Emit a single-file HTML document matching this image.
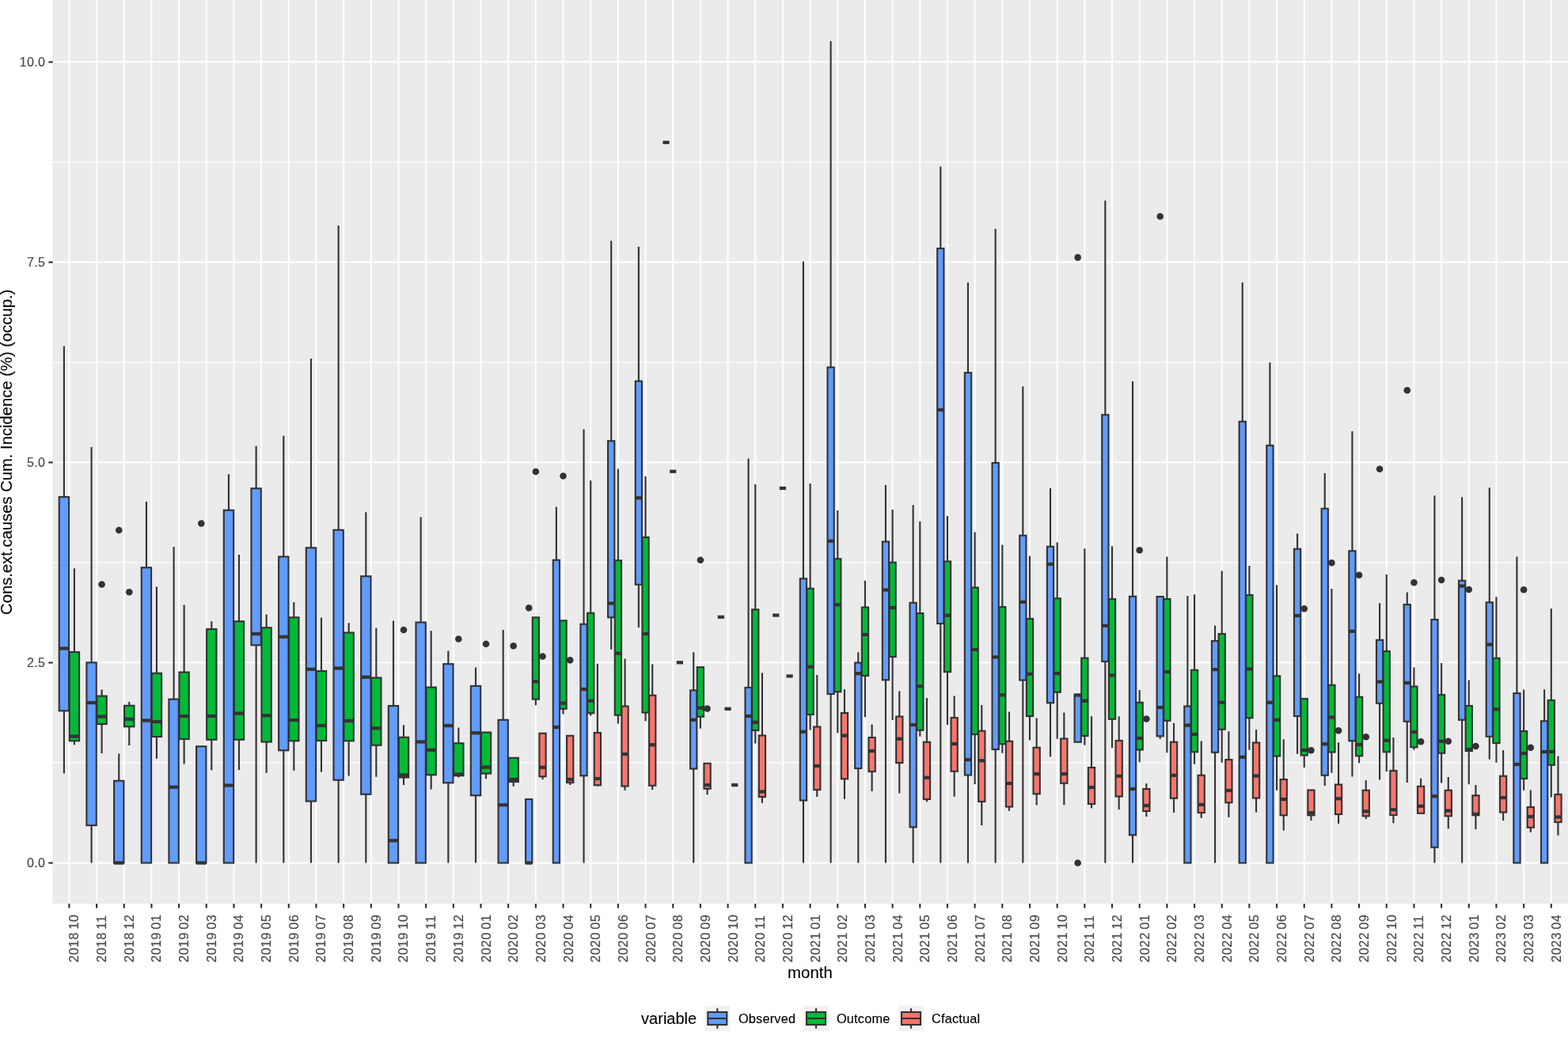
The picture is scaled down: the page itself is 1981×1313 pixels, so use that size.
<!DOCTYPE html>
<html lang="en"><head><meta charset="utf-8"><title>Cons.ext.causes Cum. Incidence by month</title>
<style>html,body{margin:0;padding:0;background:#fff}body{width:1981px;height:1313px;overflow:hidden}svg{display:block}text{font-family:"Liberation Sans",Arial,Helvetica,sans-serif}.g line{stroke:#fff}.b{stroke:#333333;stroke-width:2.12;stroke-linejoin:miter}.w{stroke:#333333;stroke-width:2.12;fill:none}.m{stroke:#333333;stroke-width:4.24}.o{fill:#333333}.t{stroke:#333333;stroke-width:2.12}.xl{font-size:16.3px;fill:#4D4D4D;stroke:#4D4D4D;stroke-width:0.22px;letter-spacing:0.52px;word-spacing:-1.5px}.yl{font-size:16px;fill:#4D4D4D;stroke:#4D4D4D;stroke-width:0.2px;text-anchor:end;letter-spacing:0.4px}.ti{font-size:20.4px;fill:#000;stroke:#000;stroke-width:0.12px}.lg{font-size:16.3px;fill:#000;stroke:#000;stroke-width:0.15px;letter-spacing:0.2px}</style></head><body>
<svg width="1981" height="1313" viewBox="0 0 1981 1313">
<rect x="0" y="0" width="1981" height="1313" fill="#fff"/>
<rect x="66.5" y="0" width="1914.5" height="1142" fill="#EBEBEB"/>
<g class="g">
<line x1="66.5" x2="1981" y1="204.9" y2="204.9" stroke-width="1.1"/>
<line x1="66.5" x2="1981" y1="457.9" y2="457.9" stroke-width="1.1"/>
<line x1="66.5" x2="1981" y1="710.9" y2="710.9" stroke-width="1.1"/>
<line x1="66.5" x2="1981" y1="963.9" y2="963.9" stroke-width="1.1"/>
<line x1="66.5" x2="1981" y1="78.3" y2="78.3" stroke-width="2"/>
<line x1="66.5" x2="1981" y1="331.3" y2="331.3" stroke-width="2"/>
<line x1="66.5" x2="1981" y1="584.3" y2="584.3" stroke-width="2"/>
<line x1="66.5" x2="1981" y1="837.35" y2="837.35" stroke-width="2"/>
<line x1="66.5" x2="1981" y1="1090.4" y2="1090.4" stroke-width="2"/>
<line x1="87.4" x2="87.4" y1="0" y2="1142" stroke-width="2"/>
<line x1="122.07" x2="122.07" y1="0" y2="1142" stroke-width="2"/>
<line x1="156.75" x2="156.75" y1="0" y2="1142" stroke-width="2"/>
<line x1="191.42" x2="191.42" y1="0" y2="1142" stroke-width="2"/>
<line x1="226.1" x2="226.1" y1="0" y2="1142" stroke-width="2"/>
<line x1="260.77" x2="260.77" y1="0" y2="1142" stroke-width="2"/>
<line x1="295.44" x2="295.44" y1="0" y2="1142" stroke-width="2"/>
<line x1="330.12" x2="330.12" y1="0" y2="1142" stroke-width="2"/>
<line x1="364.79" x2="364.79" y1="0" y2="1142" stroke-width="2"/>
<line x1="399.47" x2="399.47" y1="0" y2="1142" stroke-width="2"/>
<line x1="434.14" x2="434.14" y1="0" y2="1142" stroke-width="2"/>
<line x1="468.81" x2="468.81" y1="0" y2="1142" stroke-width="2"/>
<line x1="503.49" x2="503.49" y1="0" y2="1142" stroke-width="2"/>
<line x1="538.16" x2="538.16" y1="0" y2="1142" stroke-width="2"/>
<line x1="572.84" x2="572.84" y1="0" y2="1142" stroke-width="2"/>
<line x1="607.51" x2="607.51" y1="0" y2="1142" stroke-width="2"/>
<line x1="642.18" x2="642.18" y1="0" y2="1142" stroke-width="2"/>
<line x1="676.86" x2="676.86" y1="0" y2="1142" stroke-width="2"/>
<line x1="711.53" x2="711.53" y1="0" y2="1142" stroke-width="2"/>
<line x1="746.21" x2="746.21" y1="0" y2="1142" stroke-width="2"/>
<line x1="780.88" x2="780.88" y1="0" y2="1142" stroke-width="2"/>
<line x1="815.55" x2="815.55" y1="0" y2="1142" stroke-width="2"/>
<line x1="850.23" x2="850.23" y1="0" y2="1142" stroke-width="2"/>
<line x1="884.9" x2="884.9" y1="0" y2="1142" stroke-width="2"/>
<line x1="919.58" x2="919.58" y1="0" y2="1142" stroke-width="2"/>
<line x1="954.25" x2="954.25" y1="0" y2="1142" stroke-width="2"/>
<line x1="988.92" x2="988.92" y1="0" y2="1142" stroke-width="2"/>
<line x1="1023.6" x2="1023.6" y1="0" y2="1142" stroke-width="2"/>
<line x1="1058.27" x2="1058.27" y1="0" y2="1142" stroke-width="2"/>
<line x1="1092.95" x2="1092.95" y1="0" y2="1142" stroke-width="2"/>
<line x1="1127.62" x2="1127.62" y1="0" y2="1142" stroke-width="2"/>
<line x1="1162.29" x2="1162.29" y1="0" y2="1142" stroke-width="2"/>
<line x1="1196.97" x2="1196.97" y1="0" y2="1142" stroke-width="2"/>
<line x1="1231.64" x2="1231.64" y1="0" y2="1142" stroke-width="2"/>
<line x1="1266.32" x2="1266.32" y1="0" y2="1142" stroke-width="2"/>
<line x1="1300.99" x2="1300.99" y1="0" y2="1142" stroke-width="2"/>
<line x1="1335.66" x2="1335.66" y1="0" y2="1142" stroke-width="2"/>
<line x1="1370.34" x2="1370.34" y1="0" y2="1142" stroke-width="2"/>
<line x1="1405.01" x2="1405.01" y1="0" y2="1142" stroke-width="2"/>
<line x1="1439.69" x2="1439.69" y1="0" y2="1142" stroke-width="2"/>
<line x1="1474.36" x2="1474.36" y1="0" y2="1142" stroke-width="2"/>
<line x1="1509.03" x2="1509.03" y1="0" y2="1142" stroke-width="2"/>
<line x1="1543.71" x2="1543.71" y1="0" y2="1142" stroke-width="2"/>
<line x1="1578.38" x2="1578.38" y1="0" y2="1142" stroke-width="2"/>
<line x1="1613.06" x2="1613.06" y1="0" y2="1142" stroke-width="2"/>
<line x1="1647.73" x2="1647.73" y1="0" y2="1142" stroke-width="2"/>
<line x1="1682.4" x2="1682.4" y1="0" y2="1142" stroke-width="2"/>
<line x1="1717.08" x2="1717.08" y1="0" y2="1142" stroke-width="2"/>
<line x1="1751.75" x2="1751.75" y1="0" y2="1142" stroke-width="2"/>
<line x1="1786.43" x2="1786.43" y1="0" y2="1142" stroke-width="2"/>
<line x1="1821.1" x2="1821.1" y1="0" y2="1142" stroke-width="2"/>
<line x1="1855.77" x2="1855.77" y1="0" y2="1142" stroke-width="2"/>
<line x1="1890.45" x2="1890.45" y1="0" y2="1142" stroke-width="2"/>
<line x1="1925.12" x2="1925.12" y1="0" y2="1142" stroke-width="2"/>
<line x1="1959.8" x2="1959.8" y1="0" y2="1142" stroke-width="2"/>
</g>
<g>
<line class="w" x1="80.9" x2="80.9" y1="437.5" y2="628"/>
<line class="w" x1="80.9" x2="80.9" y1="898.25" y2="977.5"/>
<rect class="b" x="74.72" y="628" width="12.35" height="270.25" fill="#619CFF"/>
<line class="m" x1="74.72" x2="87.07" y1="819.5" y2="819.5"/>
<line class="w" x1="93.9" x2="93.9" y1="718.25" y2="824"/>
<line class="w" x1="93.9" x2="93.9" y1="936.25" y2="941.25"/>
<rect class="b" x="87.73" y="824" width="12.35" height="112.25" fill="#00BA38"/>
<line class="m" x1="87.73" x2="100.08" y1="930.5" y2="930.5"/>
</g>
<g>
<line class="w" x1="115.57" x2="115.57" y1="565" y2="837.3"/>
<line class="w" x1="115.57" x2="115.57" y1="1043" y2="1090.5"/>
<rect class="b" x="109.4" y="837.3" width="12.35" height="205.7" fill="#619CFF"/>
<line class="m" x1="109.4" x2="121.75" y1="888" y2="888"/>
<circle class="o" cx="128.58" cy="738.5" r="4.3"/>
<line class="w" x1="128.58" x2="128.58" y1="871.5" y2="879.6"/>
<line class="w" x1="128.58" x2="128.58" y1="915" y2="952"/>
<rect class="b" x="122.4" y="879.6" width="12.35" height="35.4" fill="#00BA38"/>
<line class="m" x1="122.4" x2="134.75" y1="905.5" y2="905.5"/>
</g>
<g>
<circle class="o" cx="150.25" cy="670" r="4.3"/>
<line class="w" x1="150.25" x2="150.25" y1="952.5" y2="986.75"/>
<rect class="b" x="144.07" y="986.75" width="12.35" height="103.75" fill="#619CFF"/>
<line class="m" x1="144.07" x2="156.42" y1="1090.5" y2="1090.5"/>
<circle class="o" cx="163.25" cy="748.25" r="4.3"/>
<line class="w" x1="163.25" x2="163.25" y1="887" y2="891.75"/>
<line class="w" x1="163.25" x2="163.25" y1="918.25" y2="942"/>
<rect class="b" x="157.07" y="891.75" width="12.35" height="26.5" fill="#00BA38"/>
<line class="m" x1="157.07" x2="169.43" y1="908.75" y2="908.75"/>
</g>
<g>
<line class="w" x1="184.92" x2="184.92" y1="634" y2="717.25"/>
<rect class="b" x="178.74" y="717.25" width="12.35" height="373.25" fill="#619CFF"/>
<line class="m" x1="178.74" x2="191.1" y1="910.5" y2="910.5"/>
<line class="w" x1="197.92" x2="197.92" y1="741.5" y2="850.75"/>
<line class="w" x1="197.92" x2="197.92" y1="931" y2="958.75"/>
<rect class="b" x="191.75" y="850.75" width="12.35" height="80.25" fill="#00BA38"/>
<line class="m" x1="191.75" x2="204.1" y1="912" y2="912"/>
</g>
<g>
<line class="w" x1="219.59" x2="219.59" y1="691" y2="883.6"/>
<rect class="b" x="213.42" y="883.6" width="12.35" height="206.9" fill="#619CFF"/>
<line class="m" x1="213.42" x2="225.77" y1="994.75" y2="994.75"/>
<line class="w" x1="232.6" x2="232.6" y1="764.5" y2="849.5"/>
<line class="w" x1="232.6" x2="232.6" y1="934" y2="965.5"/>
<rect class="b" x="226.42" y="849.5" width="12.35" height="84.5" fill="#00BA38"/>
<line class="m" x1="226.42" x2="238.77" y1="905" y2="905"/>
</g>
<g>
<circle class="o" cx="254.27" cy="661.5" r="4.3"/>
<rect class="b" x="248.09" y="943.25" width="12.35" height="147.25" fill="#619CFF"/>
<line class="m" x1="248.09" x2="260.44" y1="1090.5" y2="1090.5"/>
<line class="w" x1="267.27" x2="267.27" y1="785.25" y2="795"/>
<line class="w" x1="267.27" x2="267.27" y1="934.75" y2="973.25"/>
<rect class="b" x="261.1" y="795" width="12.35" height="139.75" fill="#00BA38"/>
<line class="m" x1="261.1" x2="273.45" y1="905" y2="905"/>
</g>
<g>
<line class="w" x1="288.94" x2="288.94" y1="599.25" y2="644.75"/>
<rect class="b" x="282.77" y="644.75" width="12.35" height="445.75" fill="#619CFF"/>
<line class="m" x1="282.77" x2="295.12" y1="992.5" y2="992.5"/>
<line class="w" x1="301.95" x2="301.95" y1="701" y2="785.25"/>
<line class="w" x1="301.95" x2="301.95" y1="934.75" y2="973"/>
<rect class="b" x="295.77" y="785.25" width="12.35" height="149.5" fill="#00BA38"/>
<line class="m" x1="295.77" x2="308.12" y1="901.5" y2="901.5"/>
</g>
<g>
<line class="w" x1="323.62" x2="323.62" y1="563.6" y2="617.25"/>
<line class="w" x1="323.62" x2="323.62" y1="815.25" y2="1090.5"/>
<rect class="b" x="317.44" y="617.25" width="12.35" height="198" fill="#619CFF"/>
<line class="m" x1="317.44" x2="329.79" y1="801" y2="801"/>
<line class="w" x1="336.62" x2="336.62" y1="776.5" y2="793.25"/>
<line class="w" x1="336.62" x2="336.62" y1="937.5" y2="976.75"/>
<rect class="b" x="330.44" y="793.25" width="12.35" height="144.25" fill="#00BA38"/>
<line class="m" x1="330.44" x2="342.8" y1="904.25" y2="904.25"/>
</g>
<g>
<line class="w" x1="358.29" x2="358.29" y1="550.75" y2="703.5"/>
<line class="w" x1="358.29" x2="358.29" y1="948.25" y2="1090.5"/>
<rect class="b" x="352.11" y="703.5" width="12.35" height="244.75" fill="#619CFF"/>
<line class="m" x1="352.11" x2="364.47" y1="804.75" y2="804.75"/>
<line class="w" x1="371.29" x2="371.29" y1="761" y2="780.25"/>
<line class="w" x1="371.29" x2="371.29" y1="936.25" y2="973.75"/>
<rect class="b" x="365.12" y="780.25" width="12.35" height="156" fill="#00BA38"/>
<line class="m" x1="365.12" x2="377.47" y1="910" y2="910"/>
</g>
<g>
<line class="w" x1="392.96" x2="392.96" y1="453.25" y2="692.25"/>
<line class="w" x1="392.96" x2="392.96" y1="1012.5" y2="1090.5"/>
<rect class="b" x="386.79" y="692.25" width="12.35" height="320.25" fill="#619CFF"/>
<line class="m" x1="386.79" x2="399.14" y1="845.75" y2="845.75"/>
<line class="w" x1="405.97" x2="405.97" y1="780.5" y2="848"/>
<line class="w" x1="405.97" x2="405.97" y1="936" y2="975.5"/>
<rect class="b" x="399.79" y="848" width="12.35" height="88" fill="#00BA38"/>
<line class="m" x1="399.79" x2="412.14" y1="917" y2="917"/>
</g>
<g>
<line class="w" x1="427.64" x2="427.64" y1="285.1" y2="669.75"/>
<line class="w" x1="427.64" x2="427.64" y1="985.75" y2="1090.5"/>
<rect class="b" x="421.46" y="669.75" width="12.35" height="316" fill="#619CFF"/>
<line class="m" x1="421.46" x2="433.81" y1="844.5" y2="844.5"/>
<line class="w" x1="440.64" x2="440.64" y1="787.25" y2="799.5"/>
<line class="w" x1="440.64" x2="440.64" y1="936.25" y2="980.5"/>
<rect class="b" x="434.47" y="799.5" width="12.35" height="136.75" fill="#00BA38"/>
<line class="m" x1="434.47" x2="446.82" y1="911" y2="911"/>
</g>
<g>
<line class="w" x1="462.31" x2="462.31" y1="647.25" y2="728.25"/>
<line class="w" x1="462.31" x2="462.31" y1="1003.75" y2="1090.5"/>
<rect class="b" x="456.14" y="728.25" width="12.35" height="275.5" fill="#619CFF"/>
<line class="m" x1="456.14" x2="468.49" y1="855.75" y2="855.75"/>
<line class="w" x1="475.32" x2="475.32" y1="793.75" y2="856.5"/>
<line class="w" x1="475.32" x2="475.32" y1="941.75" y2="981.75"/>
<rect class="b" x="469.14" y="856.5" width="12.35" height="85.25" fill="#00BA38"/>
<line class="m" x1="469.14" x2="481.49" y1="920.25" y2="920.25"/>
</g>
<g>
<line class="w" x1="496.99" x2="496.99" y1="784.5" y2="892"/>
<rect class="b" x="490.81" y="892" width="12.35" height="198.5" fill="#619CFF"/>
<line class="m" x1="490.81" x2="503.16" y1="1062.25" y2="1062.25"/>
<circle class="o" cx="509.99" cy="796" r="4.3"/>
<line class="w" x1="509.99" x2="509.99" y1="916.25" y2="931.75"/>
<line class="w" x1="509.99" x2="509.99" y1="982.5" y2="992"/>
<rect class="b" x="503.81" y="931.75" width="12.35" height="50.75" fill="#00BA38"/>
<line class="m" x1="503.81" x2="516.17" y1="979.5" y2="979.5"/>
</g>
<g>
<line class="w" x1="531.66" x2="531.66" y1="653.5" y2="786.5"/>
<rect class="b" x="525.48" y="786.5" width="12.35" height="304" fill="#619CFF"/>
<line class="m" x1="525.48" x2="537.84" y1="937.5" y2="937.5"/>
<line class="w" x1="544.66" x2="544.66" y1="797.25" y2="868.6"/>
<line class="w" x1="544.66" x2="544.66" y1="979.25" y2="997.5"/>
<rect class="b" x="538.49" y="868.6" width="12.35" height="110.65" fill="#00BA38"/>
<line class="m" x1="538.49" x2="550.84" y1="947.75" y2="947.75"/>
</g>
<g>
<line class="w" x1="566.33" x2="566.33" y1="822.5" y2="839.1"/>
<line class="w" x1="566.33" x2="566.33" y1="989.25" y2="1090.5"/>
<rect class="b" x="560.16" y="839.1" width="12.35" height="150.15" fill="#619CFF"/>
<line class="m" x1="560.16" x2="572.51" y1="917" y2="917"/>
<circle class="o" cx="579.34" cy="807.5" r="4.3"/>
<line class="w" x1="579.34" x2="579.34" y1="919.5" y2="939.25"/>
<line class="w" x1="579.34" x2="579.34" y1="980.25" y2="982.5"/>
<rect class="b" x="573.16" y="939.25" width="12.35" height="41" fill="#00BA38"/>
<line class="m" x1="573.16" x2="585.51" y1="978.5" y2="978.5"/>
</g>
<g>
<line class="w" x1="601.01" x2="601.01" y1="843.4" y2="866.9"/>
<line class="w" x1="601.01" x2="601.01" y1="1005.25" y2="1090.5"/>
<rect class="b" x="594.83" y="866.9" width="12.35" height="138.35" fill="#619CFF"/>
<line class="m" x1="594.83" x2="607.18" y1="926.25" y2="926.25"/>
<circle class="o" cx="614.01" cy="813.75" r="4.3"/>
<line class="w" x1="614.01" x2="614.01" y1="977.5" y2="984.25"/>
<rect class="b" x="607.84" y="925.5" width="12.35" height="52" fill="#00BA38"/>
<line class="m" x1="607.84" x2="620.19" y1="969.5" y2="969.5"/>
</g>
<g>
<line class="w" x1="635.68" x2="635.68" y1="796" y2="909.75"/>
<rect class="b" x="629.51" y="909.75" width="12.35" height="180.75" fill="#619CFF"/>
<line class="m" x1="629.51" x2="641.86" y1="1017.25" y2="1017.25"/>
<circle class="o" cx="648.69" cy="816.25" r="4.3"/>
<line class="w" x1="648.69" x2="648.69" y1="988" y2="993.75"/>
<rect class="b" x="642.51" y="957.75" width="12.35" height="30.25" fill="#00BA38"/>
<line class="m" x1="642.51" x2="654.86" y1="985" y2="985"/>
</g>
<g>
<circle class="o" cx="668.19" cy="768.25" r="4.3"/>
<rect class="b" x="664.07" y="1010" width="8.24" height="80.5" fill="#619CFF"/>
<line class="m" x1="664.07" x2="672.31" y1="1090.5" y2="1090.5"/>
<circle class="o" cx="676.86" cy="596" r="4.3"/>
<line class="w" x1="676.86" x2="676.86" y1="883.6" y2="891.25"/>
<rect class="b" x="672.74" y="780.25" width="8.24" height="103.35" fill="#00BA38"/>
<line class="m" x1="672.74" x2="680.98" y1="861.25" y2="861.25"/>
<circle class="o" cx="685.53" cy="829.5" r="4.3"/>
<line class="w" x1="685.53" x2="685.53" y1="981.25" y2="985"/>
<rect class="b" x="681.41" y="926.75" width="8.24" height="54.5" fill="#F8766D"/>
<line class="m" x1="681.41" x2="689.64" y1="969.75" y2="969.75"/>
</g>
<g>
<line class="w" x1="702.86" x2="702.86" y1="640.5" y2="707.75"/>
<rect class="b" x="698.75" y="707.75" width="8.24" height="382.75" fill="#619CFF"/>
<line class="m" x1="698.75" x2="706.98" y1="919" y2="919"/>
<circle class="o" cx="711.53" cy="601.5" r="4.3"/>
<line class="w" x1="711.53" x2="711.53" y1="895.75" y2="902.5"/>
<rect class="b" x="707.41" y="784.25" width="8.24" height="111.5" fill="#00BA38"/>
<line class="m" x1="707.41" x2="715.65" y1="888.5" y2="888.5"/>
<circle class="o" cx="720.2" cy="834.25" r="4.3"/>
<line class="w" x1="720.2" x2="720.2" y1="989" y2="992"/>
<rect class="b" x="716.08" y="929.75" width="8.24" height="59.25" fill="#F8766D"/>
<line class="m" x1="716.08" x2="724.32" y1="985" y2="985"/>
</g>
<g>
<line class="w" x1="737.54" x2="737.54" y1="542.5" y2="788.75"/>
<line class="w" x1="737.54" x2="737.54" y1="980.25" y2="1090.5"/>
<rect class="b" x="733.42" y="788.75" width="8.24" height="191.5" fill="#619CFF"/>
<line class="m" x1="733.42" x2="741.66" y1="871" y2="871"/>
<line class="w" x1="746.21" x2="746.21" y1="607.25" y2="774.75"/>
<line class="w" x1="746.21" x2="746.21" y1="901.25" y2="904.5"/>
<rect class="b" x="742.09" y="774.75" width="8.24" height="126.5" fill="#00BA38"/>
<line class="m" x1="742.09" x2="750.32" y1="885.75" y2="885.75"/>
<line class="w" x1="754.87" x2="754.87" y1="838.75" y2="926"/>
<line class="w" x1="754.87" x2="754.87" y1="992.25" y2="993.5"/>
<rect class="b" x="750.76" y="926" width="8.24" height="66.25" fill="#F8766D"/>
<line class="m" x1="750.76" x2="758.99" y1="984" y2="984"/>
</g>
<g>
<line class="w" x1="772.21" x2="772.21" y1="304.25" y2="557.25"/>
<line class="w" x1="772.21" x2="772.21" y1="780.25" y2="820.75"/>
<rect class="b" x="768.09" y="557.25" width="8.24" height="223" fill="#619CFF"/>
<line class="m" x1="768.09" x2="776.33" y1="762.5" y2="762.5"/>
<line class="w" x1="780.88" x2="780.88" y1="592.5" y2="708.25"/>
<line class="w" x1="780.88" x2="780.88" y1="903.75" y2="914.5"/>
<rect class="b" x="776.76" y="708.25" width="8.24" height="195.5" fill="#00BA38"/>
<line class="m" x1="776.76" x2="785" y1="825.6" y2="825.6"/>
<line class="w" x1="789.55" x2="789.55" y1="832.5" y2="892.5"/>
<line class="w" x1="789.55" x2="789.55" y1="993.5" y2="998.75"/>
<rect class="b" x="785.43" y="892.5" width="8.24" height="101" fill="#F8766D"/>
<line class="m" x1="785.43" x2="793.67" y1="953" y2="953"/>
</g>
<g>
<line class="w" x1="806.89" x2="806.89" y1="311.75" y2="481.75"/>
<line class="w" x1="806.89" x2="806.89" y1="738.75" y2="793"/>
<rect class="b" x="802.77" y="481.75" width="8.24" height="257" fill="#619CFF"/>
<line class="m" x1="802.77" x2="811" y1="629.25" y2="629.25"/>
<line class="w" x1="815.55" x2="815.55" y1="602" y2="679"/>
<line class="w" x1="815.55" x2="815.55" y1="900.5" y2="911.25"/>
<rect class="b" x="811.44" y="679" width="8.24" height="221.5" fill="#00BA38"/>
<line class="m" x1="811.44" x2="819.67" y1="801" y2="801"/>
<line class="w" x1="824.22" x2="824.22" y1="839.4" y2="878.75"/>
<line class="w" x1="824.22" x2="824.22" y1="992.75" y2="998"/>
<rect class="b" x="820.1" y="878.75" width="8.24" height="114" fill="#F8766D"/>
<line class="m" x1="820.1" x2="828.34" y1="941.25" y2="941.25"/>
</g>
<g>
<line class="m" x1="837.44" x2="845.68" y1="180" y2="180"/>
<line class="m" x1="846.11" x2="854.35" y1="595.75" y2="595.75"/>
<line class="m" x1="854.78" x2="863.01" y1="837.25" y2="837.25"/>
</g>
<g>
<line class="w" x1="876.23" x2="876.23" y1="824.25" y2="872.4"/>
<line class="w" x1="876.23" x2="876.23" y1="971.5" y2="1090.5"/>
<rect class="b" x="872.12" y="872.4" width="8.24" height="99.1" fill="#619CFF"/>
<line class="m" x1="872.12" x2="880.35" y1="909.75" y2="909.75"/>
<circle class="o" cx="884.9" cy="707.75" r="4.3"/>
<line class="w" x1="884.9" x2="884.9" y1="905.75" y2="920.75"/>
<rect class="b" x="880.78" y="843.1" width="8.24" height="62.65" fill="#00BA38"/>
<line class="m" x1="880.78" x2="889.02" y1="894.5" y2="894.5"/>
<circle class="o" cx="893.57" cy="895.5" r="4.3"/>
<line class="w" x1="893.57" x2="893.57" y1="996.75" y2="1004.25"/>
<rect class="b" x="889.45" y="964.75" width="8.24" height="32" fill="#F8766D"/>
<line class="m" x1="889.45" x2="897.69" y1="992" y2="992"/>
</g>
<g>
<line class="m" x1="906.79" x2="915.03" y1="779.75" y2="779.75"/>
<line class="m" x1="915.46" x2="923.69" y1="895.75" y2="895.75"/>
<line class="m" x1="924.13" x2="932.36" y1="992" y2="992"/>
</g>
<g>
<line class="w" x1="945.58" x2="945.58" y1="579.5" y2="868.9"/>
<rect class="b" x="941.46" y="868.9" width="8.24" height="221.6" fill="#619CFF"/>
<line class="m" x1="941.46" x2="949.7" y1="905" y2="905"/>
<line class="w" x1="954.25" x2="954.25" y1="612" y2="770.25"/>
<line class="w" x1="954.25" x2="954.25" y1="923" y2="939.5"/>
<rect class="b" x="950.13" y="770.25" width="8.24" height="152.75" fill="#00BA38"/>
<line class="m" x1="950.13" x2="958.37" y1="912.75" y2="912.75"/>
<line class="w" x1="962.92" x2="962.92" y1="850.25" y2="929.5"/>
<line class="w" x1="962.92" x2="962.92" y1="1007" y2="1014.75"/>
<rect class="b" x="958.8" y="929.5" width="8.24" height="77.5" fill="#F8766D"/>
<line class="m" x1="958.8" x2="967.04" y1="1000.5" y2="1000.5"/>
</g>
<g>
<line class="m" x1="976.14" x2="984.37" y1="777.5" y2="777.5"/>
<line class="m" x1="984.81" x2="993.04" y1="617" y2="617"/>
<line class="m" x1="993.47" x2="1001.71" y1="854.4" y2="854.4"/>
</g>
<g>
<line class="w" x1="1014.93" x2="1014.93" y1="330.5" y2="731.25"/>
<line class="w" x1="1014.93" x2="1014.93" y1="1011.5" y2="1090.5"/>
<rect class="b" x="1010.81" y="731.25" width="8.24" height="280.25" fill="#619CFF"/>
<line class="m" x1="1010.81" x2="1019.05" y1="924.75" y2="924.75"/>
<line class="w" x1="1023.6" x2="1023.6" y1="611" y2="743.75"/>
<line class="w" x1="1023.6" x2="1023.6" y1="903" y2="922.5"/>
<rect class="b" x="1019.48" y="743.75" width="8.24" height="159.25" fill="#00BA38"/>
<line class="m" x1="1019.48" x2="1027.72" y1="842.6" y2="842.6"/>
<line class="w" x1="1032.27" x2="1032.27" y1="852.9" y2="918.5"/>
<line class="w" x1="1032.27" x2="1032.27" y1="998" y2="1007"/>
<rect class="b" x="1028.15" y="918.5" width="8.24" height="79.5" fill="#F8766D"/>
<line class="m" x1="1028.15" x2="1036.38" y1="967.9" y2="967.9"/>
</g>
<g>
<line class="w" x1="1049.6" x2="1049.6" y1="52" y2="464.25"/>
<line class="w" x1="1049.6" x2="1049.6" y1="877" y2="1090.5"/>
<rect class="b" x="1045.49" y="464.25" width="8.24" height="412.75" fill="#619CFF"/>
<line class="m" x1="1045.49" x2="1053.72" y1="683.75" y2="683.75"/>
<line class="w" x1="1058.27" x2="1058.27" y1="645" y2="706.25"/>
<line class="w" x1="1058.27" x2="1058.27" y1="874.25" y2="926.25"/>
<rect class="b" x="1054.15" y="706.25" width="8.24" height="168" fill="#00BA38"/>
<line class="m" x1="1054.15" x2="1062.39" y1="764.25" y2="764.25"/>
<line class="w" x1="1066.94" x2="1066.94" y1="871.1" y2="901"/>
<line class="w" x1="1066.94" x2="1066.94" y1="984.25" y2="1009.75"/>
<rect class="b" x="1062.82" y="901" width="8.24" height="83.25" fill="#F8766D"/>
<line class="m" x1="1062.82" x2="1071.06" y1="929.5" y2="929.5"/>
</g>
<g>
<line class="w" x1="1084.28" x2="1084.28" y1="824.25" y2="837.5"/>
<line class="w" x1="1084.28" x2="1084.28" y1="971" y2="1090.5"/>
<rect class="b" x="1080.16" y="837.5" width="8.24" height="133.5" fill="#619CFF"/>
<line class="m" x1="1080.16" x2="1088.4" y1="851.1" y2="851.1"/>
<line class="w" x1="1092.95" x2="1092.95" y1="733.75" y2="767.5"/>
<line class="w" x1="1092.95" x2="1092.95" y1="853.9" y2="906.25"/>
<rect class="b" x="1088.83" y="767.5" width="8.24" height="86.4" fill="#00BA38"/>
<line class="m" x1="1088.83" x2="1097.06" y1="802" y2="802"/>
<line class="w" x1="1101.61" x2="1101.61" y1="915.5" y2="932"/>
<line class="w" x1="1101.61" x2="1101.61" y1="975" y2="1000"/>
<rect class="b" x="1097.5" y="932" width="8.24" height="43" fill="#F8766D"/>
<line class="m" x1="1097.5" x2="1105.73" y1="949" y2="949"/>
</g>
<g>
<line class="w" x1="1118.95" x2="1118.95" y1="613" y2="684.5"/>
<line class="w" x1="1118.95" x2="1118.95" y1="859.25" y2="1090.5"/>
<rect class="b" x="1114.83" y="684.5" width="8.24" height="174.75" fill="#619CFF"/>
<line class="m" x1="1114.83" x2="1123.07" y1="745.5" y2="745.5"/>
<line class="w" x1="1127.62" x2="1127.62" y1="644" y2="710.75"/>
<line class="w" x1="1127.62" x2="1127.62" y1="830" y2="910"/>
<rect class="b" x="1123.5" y="710.75" width="8.24" height="119.25" fill="#00BA38"/>
<line class="m" x1="1123.5" x2="1131.74" y1="768" y2="768"/>
<line class="w" x1="1136.29" x2="1136.29" y1="873.25" y2="905.5"/>
<line class="w" x1="1136.29" x2="1136.29" y1="964" y2="1002.5"/>
<rect class="b" x="1132.17" y="905.5" width="8.24" height="58.5" fill="#F8766D"/>
<line class="m" x1="1132.17" x2="1140.41" y1="933.75" y2="933.75"/>
</g>
<g>
<line class="w" x1="1153.63" x2="1153.63" y1="638.25" y2="761.75"/>
<line class="w" x1="1153.63" x2="1153.63" y1="1045.25" y2="1090.5"/>
<rect class="b" x="1149.51" y="761.75" width="8.24" height="283.5" fill="#619CFF"/>
<line class="m" x1="1149.51" x2="1157.74" y1="916" y2="916"/>
<line class="w" x1="1162.29" x2="1162.29" y1="659" y2="775"/>
<line class="w" x1="1162.29" x2="1162.29" y1="922.75" y2="930.75"/>
<rect class="b" x="1158.18" y="775" width="8.24" height="147.75" fill="#00BA38"/>
<line class="m" x1="1158.18" x2="1166.41" y1="867.25" y2="867.25"/>
<line class="w" x1="1170.96" x2="1170.96" y1="882" y2="937.75"/>
<line class="w" x1="1170.96" x2="1170.96" y1="1010" y2="1013.25"/>
<rect class="b" x="1166.84" y="937.75" width="8.24" height="72.25" fill="#F8766D"/>
<line class="m" x1="1166.84" x2="1175.08" y1="982.75" y2="982.75"/>
</g>
<g>
<line class="w" x1="1188.3" x2="1188.3" y1="210.5" y2="314"/>
<line class="w" x1="1188.3" x2="1188.3" y1="788" y2="1090.5"/>
<rect class="b" x="1184.18" y="314" width="8.24" height="474" fill="#619CFF"/>
<line class="m" x1="1184.18" x2="1192.42" y1="518" y2="518"/>
<line class="w" x1="1196.97" x2="1196.97" y1="652" y2="709.5"/>
<line class="w" x1="1196.97" x2="1196.97" y1="849.1" y2="916"/>
<rect class="b" x="1192.85" y="709.5" width="8.24" height="139.6" fill="#00BA38"/>
<line class="m" x1="1192.85" x2="1201.09" y1="777.75" y2="777.75"/>
<line class="w" x1="1205.64" x2="1205.64" y1="879.5" y2="907"/>
<line class="w" x1="1205.64" x2="1205.64" y1="974.75" y2="1006.75"/>
<rect class="b" x="1201.52" y="907" width="8.24" height="67.75" fill="#F8766D"/>
<line class="m" x1="1201.52" x2="1209.75" y1="940" y2="940"/>
</g>
<g>
<line class="w" x1="1222.97" x2="1222.97" y1="357" y2="471"/>
<line class="w" x1="1222.97" x2="1222.97" y1="979.5" y2="1090.5"/>
<rect class="b" x="1218.86" y="471" width="8.24" height="508.5" fill="#619CFF"/>
<line class="m" x1="1218.86" x2="1227.09" y1="960" y2="960"/>
<line class="w" x1="1231.64" x2="1231.64" y1="672.5" y2="742.5"/>
<line class="w" x1="1231.64" x2="1231.64" y1="928" y2="991"/>
<rect class="b" x="1227.52" y="742.5" width="8.24" height="185.5" fill="#00BA38"/>
<line class="m" x1="1227.52" x2="1235.76" y1="820.9" y2="820.9"/>
<line class="w" x1="1240.31" x2="1240.31" y1="891" y2="923.75"/>
<line class="w" x1="1240.31" x2="1240.31" y1="1013" y2="1043"/>
<rect class="b" x="1236.19" y="923.75" width="8.24" height="89.25" fill="#F8766D"/>
<line class="m" x1="1236.19" x2="1244.43" y1="961.25" y2="961.25"/>
</g>
<g>
<line class="w" x1="1257.65" x2="1257.65" y1="289.25" y2="584.9"/>
<line class="w" x1="1257.65" x2="1257.65" y1="947" y2="1090.5"/>
<rect class="b" x="1253.53" y="584.9" width="8.24" height="362.1" fill="#619CFF"/>
<line class="m" x1="1253.53" x2="1261.77" y1="830.4" y2="830.4"/>
<line class="w" x1="1266.32" x2="1266.32" y1="688.5" y2="767"/>
<line class="w" x1="1266.32" x2="1266.32" y1="940.25" y2="951.75"/>
<rect class="b" x="1262.2" y="767" width="8.24" height="173.25" fill="#00BA38"/>
<line class="m" x1="1262.2" x2="1270.43" y1="878.25" y2="878.25"/>
<line class="w" x1="1274.98" x2="1274.98" y1="899.5" y2="936.75"/>
<line class="w" x1="1274.98" x2="1274.98" y1="1019.5" y2="1024.75"/>
<rect class="b" x="1270.87" y="936.75" width="8.24" height="82.75" fill="#F8766D"/>
<line class="m" x1="1270.87" x2="1279.1" y1="990" y2="990"/>
</g>
<g>
<line class="w" x1="1292.32" x2="1292.32" y1="488.25" y2="676.75"/>
<line class="w" x1="1292.32" x2="1292.32" y1="859.5" y2="1090.5"/>
<rect class="b" x="1288.2" y="676.75" width="8.24" height="182.75" fill="#619CFF"/>
<line class="m" x1="1288.2" x2="1296.44" y1="760.75" y2="760.75"/>
<line class="w" x1="1300.99" x2="1300.99" y1="702.5" y2="782"/>
<line class="w" x1="1300.99" x2="1300.99" y1="905" y2="935.5"/>
<rect class="b" x="1296.87" y="782" width="8.24" height="123" fill="#00BA38"/>
<line class="m" x1="1296.87" x2="1305.11" y1="851.75" y2="851.75"/>
<line class="w" x1="1309.66" x2="1309.66" y1="907.5" y2="944.75"/>
<line class="w" x1="1309.66" x2="1309.66" y1="1003.25" y2="1017.5"/>
<rect class="b" x="1305.54" y="944.75" width="8.24" height="58.5" fill="#F8766D"/>
<line class="m" x1="1305.54" x2="1313.78" y1="978" y2="978"/>
</g>
<g>
<line class="w" x1="1327" x2="1327" y1="617" y2="690.75"/>
<line class="w" x1="1327" x2="1327" y1="888.25" y2="956.25"/>
<rect class="b" x="1322.88" y="690.75" width="8.24" height="197.5" fill="#619CFF"/>
<line class="m" x1="1322.88" x2="1331.11" y1="713" y2="713"/>
<line class="w" x1="1335.66" x2="1335.66" y1="685.25" y2="756.25"/>
<line class="w" x1="1335.66" x2="1335.66" y1="874.75" y2="933.75"/>
<rect class="b" x="1331.55" y="756.25" width="8.24" height="118.5" fill="#00BA38"/>
<line class="m" x1="1331.55" x2="1339.78" y1="851" y2="851"/>
<line class="w" x1="1344.33" x2="1344.33" y1="900.5" y2="933.5"/>
<line class="w" x1="1344.33" x2="1344.33" y1="989.75" y2="1017.25"/>
<rect class="b" x="1340.21" y="933.5" width="8.24" height="56.25" fill="#F8766D"/>
<line class="m" x1="1340.21" x2="1348.45" y1="978" y2="978"/>
</g>
<g>
<circle class="o" cx="1361.67" cy="325.4" r="4.3"/>
<circle class="o" cx="1361.67" cy="1090.5" r="4.3"/>
<rect class="b" x="1357.55" y="877.75" width="8.24" height="60" fill="#619CFF"/>
<line class="m" x1="1357.55" x2="1365.79" y1="878.5" y2="878.5"/>
<line class="w" x1="1370.34" x2="1370.34" y1="693.25" y2="831.6"/>
<line class="w" x1="1370.34" x2="1370.34" y1="930" y2="941.75"/>
<rect class="b" x="1366.22" y="831.6" width="8.24" height="98.4" fill="#00BA38"/>
<line class="m" x1="1366.22" x2="1374.46" y1="885.75" y2="885.75"/>
<line class="w" x1="1379.01" x2="1379.01" y1="905.25" y2="970"/>
<line class="w" x1="1379.01" x2="1379.01" y1="1016" y2="1021.25"/>
<rect class="b" x="1374.89" y="970" width="8.24" height="46" fill="#F8766D"/>
<line class="m" x1="1374.89" x2="1383.12" y1="995" y2="995"/>
</g>
<g>
<line class="w" x1="1396.34" x2="1396.34" y1="253.5" y2="524.25"/>
<line class="w" x1="1396.34" x2="1396.34" y1="835.9" y2="1090.5"/>
<rect class="b" x="1392.23" y="524.25" width="8.24" height="311.65" fill="#619CFF"/>
<line class="m" x1="1392.23" x2="1400.46" y1="790.75" y2="790.75"/>
<line class="w" x1="1405.01" x2="1405.01" y1="690.25" y2="757"/>
<line class="w" x1="1405.01" x2="1405.01" y1="908.75" y2="945"/>
<rect class="b" x="1400.89" y="757" width="8.24" height="151.75" fill="#00BA38"/>
<line class="m" x1="1400.89" x2="1409.13" y1="853.4" y2="853.4"/>
<line class="w" x1="1413.68" x2="1413.68" y1="905.25" y2="936"/>
<line class="w" x1="1413.68" x2="1413.68" y1="1006.5" y2="1023"/>
<rect class="b" x="1409.56" y="936" width="8.24" height="70.5" fill="#F8766D"/>
<line class="m" x1="1409.56" x2="1417.8" y1="980.75" y2="980.75"/>
</g>
<g>
<line class="w" x1="1431.02" x2="1431.02" y1="481.75" y2="753.75"/>
<line class="w" x1="1431.02" x2="1431.02" y1="1055.25" y2="1090.5"/>
<rect class="b" x="1426.9" y="753.75" width="8.24" height="301.5" fill="#619CFF"/>
<line class="m" x1="1426.9" x2="1435.14" y1="997" y2="997"/>
<circle class="o" cx="1439.69" cy="695.25" r="4.3"/>
<line class="w" x1="1439.69" x2="1439.69" y1="872" y2="887.75"/>
<line class="w" x1="1439.69" x2="1439.69" y1="947.5" y2="963.25"/>
<rect class="b" x="1435.57" y="887.75" width="8.24" height="59.75" fill="#00BA38"/>
<line class="m" x1="1435.57" x2="1443.8" y1="933" y2="933"/>
<circle class="o" cx="1448.35" cy="908.5" r="4.3"/>
<line class="w" x1="1448.35" x2="1448.35" y1="990" y2="997"/>
<line class="w" x1="1448.35" x2="1448.35" y1="1025" y2="1032"/>
<rect class="b" x="1444.24" y="997" width="8.24" height="28" fill="#F8766D"/>
<line class="m" x1="1444.24" x2="1452.47" y1="1018" y2="1018"/>
</g>
<g>
<circle class="o" cx="1465.69" cy="273.5" r="4.3"/>
<line class="w" x1="1465.69" x2="1465.69" y1="930.25" y2="933.75"/>
<rect class="b" x="1461.57" y="754" width="8.24" height="176.25" fill="#619CFF"/>
<line class="m" x1="1461.57" x2="1469.81" y1="894" y2="894"/>
<line class="w" x1="1474.36" x2="1474.36" y1="703.5" y2="757"/>
<line class="w" x1="1474.36" x2="1474.36" y1="910.75" y2="951.25"/>
<rect class="b" x="1470.24" y="757" width="8.24" height="153.75" fill="#00BA38"/>
<line class="m" x1="1470.24" x2="1478.48" y1="849" y2="849"/>
<line class="w" x1="1483.03" x2="1483.03" y1="913.75" y2="937.75"/>
<line class="w" x1="1483.03" x2="1483.03" y1="1008.75" y2="1027"/>
<rect class="b" x="1478.91" y="937.75" width="8.24" height="71" fill="#F8766D"/>
<line class="m" x1="1478.91" x2="1487.15" y1="979.75" y2="979.75"/>
</g>
<g>
<line class="w" x1="1500.37" x2="1500.37" y1="753" y2="892.5"/>
<rect class="b" x="1496.25" y="892.5" width="8.24" height="198" fill="#619CFF"/>
<line class="m" x1="1496.25" x2="1504.48" y1="916.6" y2="916.6"/>
<line class="w" x1="1509.03" x2="1509.03" y1="751.25" y2="846.75"/>
<line class="w" x1="1509.03" x2="1509.03" y1="950.25" y2="965.75"/>
<rect class="b" x="1504.92" y="846.75" width="8.24" height="103.5" fill="#00BA38"/>
<line class="m" x1="1504.92" x2="1513.15" y1="928" y2="928"/>
<line class="w" x1="1517.7" x2="1517.7" y1="936.5" y2="979.75"/>
<line class="w" x1="1517.7" x2="1517.7" y1="1027" y2="1033.75"/>
<rect class="b" x="1513.58" y="979.75" width="8.24" height="47.25" fill="#F8766D"/>
<line class="m" x1="1513.58" x2="1521.82" y1="1016.75" y2="1016.75"/>
</g>
<g>
<line class="w" x1="1535.04" x2="1535.04" y1="790.5" y2="810"/>
<line class="w" x1="1535.04" x2="1535.04" y1="950.75" y2="1090.5"/>
<rect class="b" x="1530.92" y="810" width="8.24" height="140.75" fill="#619CFF"/>
<line class="m" x1="1530.92" x2="1539.16" y1="846.1" y2="846.1"/>
<line class="w" x1="1543.71" x2="1543.71" y1="721.5" y2="801"/>
<line class="w" x1="1543.71" x2="1543.71" y1="921.75" y2="963.75"/>
<rect class="b" x="1539.59" y="801" width="8.24" height="120.75" fill="#00BA38"/>
<line class="m" x1="1539.59" x2="1547.83" y1="887.75" y2="887.75"/>
<line class="w" x1="1552.38" x2="1552.38" y1="924.25" y2="960"/>
<line class="w" x1="1552.38" x2="1552.38" y1="1014.25" y2="1032.75"/>
<rect class="b" x="1548.26" y="960" width="8.24" height="54.25" fill="#F8766D"/>
<line class="m" x1="1548.26" x2="1556.49" y1="999" y2="999"/>
</g>
<g>
<line class="w" x1="1569.71" x2="1569.71" y1="357" y2="532.75"/>
<rect class="b" x="1565.6" y="532.75" width="8.24" height="557.75" fill="#619CFF"/>
<line class="m" x1="1565.6" x2="1573.83" y1="956.75" y2="956.75"/>
<line class="w" x1="1578.38" x2="1578.38" y1="715" y2="752"/>
<line class="w" x1="1578.38" x2="1578.38" y1="907.25" y2="947.75"/>
<rect class="b" x="1574.26" y="752" width="8.24" height="155.25" fill="#00BA38"/>
<line class="m" x1="1574.26" x2="1582.5" y1="845.4" y2="845.4"/>
<line class="w" x1="1587.05" x2="1587.05" y1="922" y2="938.5"/>
<line class="w" x1="1587.05" x2="1587.05" y1="1008.5" y2="1026.5"/>
<rect class="b" x="1582.93" y="938.5" width="8.24" height="70" fill="#F8766D"/>
<line class="m" x1="1582.93" x2="1591.17" y1="980.5" y2="980.5"/>
</g>
<g>
<line class="w" x1="1604.39" x2="1604.39" y1="458" y2="562.9"/>
<rect class="b" x="1600.27" y="562.9" width="8.24" height="527.6" fill="#619CFF"/>
<line class="m" x1="1600.27" x2="1608.51" y1="887.75" y2="887.75"/>
<line class="w" x1="1613.06" x2="1613.06" y1="739.25" y2="854.25"/>
<line class="w" x1="1613.06" x2="1613.06" y1="955.5" y2="998.75"/>
<rect class="b" x="1608.94" y="854.25" width="8.24" height="101.25" fill="#00BA38"/>
<line class="m" x1="1608.94" x2="1617.17" y1="909.75" y2="909.75"/>
<line class="w" x1="1621.72" x2="1621.72" y1="934.25" y2="985"/>
<line class="w" x1="1621.72" x2="1621.72" y1="1030.25" y2="1049.5"/>
<rect class="b" x="1617.61" y="985" width="8.24" height="45.25" fill="#F8766D"/>
<line class="m" x1="1617.61" x2="1625.84" y1="1010" y2="1010"/>
</g>
<g>
<line class="w" x1="1639.06" x2="1639.06" y1="674.25" y2="693.75"/>
<line class="w" x1="1639.06" x2="1639.06" y1="905" y2="952.75"/>
<rect class="b" x="1634.94" y="693.75" width="8.24" height="211.25" fill="#619CFF"/>
<line class="m" x1="1634.94" x2="1643.18" y1="778" y2="778"/>
<circle class="o" cx="1647.73" cy="769.25" r="4.3"/>
<line class="w" x1="1647.73" x2="1647.73" y1="954.5" y2="970"/>
<rect class="b" x="1643.61" y="883" width="8.24" height="71.5" fill="#00BA38"/>
<line class="m" x1="1643.61" x2="1651.85" y1="948" y2="948"/>
<circle class="o" cx="1656.4" cy="948.25" r="4.3"/>
<line class="w" x1="1656.4" x2="1656.4" y1="1030.25" y2="1037"/>
<rect class="b" x="1652.28" y="998.5" width="8.24" height="31.75" fill="#F8766D"/>
<line class="m" x1="1652.28" x2="1660.52" y1="1027.25" y2="1027.25"/>
</g>
<g>
<line class="w" x1="1673.74" x2="1673.74" y1="597.9" y2="642.75"/>
<line class="w" x1="1673.74" x2="1673.74" y1="979.75" y2="993"/>
<rect class="b" x="1669.62" y="642.75" width="8.24" height="337" fill="#619CFF"/>
<line class="m" x1="1669.62" x2="1677.85" y1="940.25" y2="940.25"/>
<circle class="o" cx="1682.4" cy="711.25" r="4.3"/>
<line class="w" x1="1682.4" x2="1682.4" y1="744" y2="865.75"/>
<line class="w" x1="1682.4" x2="1682.4" y1="950.5" y2="976.75"/>
<rect class="b" x="1678.29" y="865.75" width="8.24" height="84.75" fill="#00BA38"/>
<line class="m" x1="1678.29" x2="1686.52" y1="906.5" y2="906.5"/>
<circle class="o" cx="1691.07" cy="923.25" r="4.3"/>
<line class="w" x1="1691.07" x2="1691.07" y1="938.25" y2="991.5"/>
<line class="w" x1="1691.07" x2="1691.07" y1="1029" y2="1040.75"/>
<rect class="b" x="1686.95" y="991.5" width="8.24" height="37.5" fill="#F8766D"/>
<line class="m" x1="1686.95" x2="1695.19" y1="1009.25" y2="1009.25"/>
</g>
<g>
<line class="w" x1="1708.41" x2="1708.41" y1="545" y2="696.25"/>
<line class="w" x1="1708.41" x2="1708.41" y1="936.25" y2="981.5"/>
<rect class="b" x="1704.29" y="696.25" width="8.24" height="240" fill="#619CFF"/>
<line class="m" x1="1704.29" x2="1712.53" y1="797.75" y2="797.75"/>
<circle class="o" cx="1717.08" cy="726.75" r="4.3"/>
<line class="w" x1="1717.08" x2="1717.08" y1="851.25" y2="880.75"/>
<line class="w" x1="1717.08" x2="1717.08" y1="955.25" y2="964.25"/>
<rect class="b" x="1712.96" y="880.75" width="8.24" height="74.5" fill="#00BA38"/>
<line class="m" x1="1712.96" x2="1721.2" y1="941" y2="941"/>
<circle class="o" cx="1725.75" cy="931.25" r="4.3"/>
<line class="w" x1="1725.75" x2="1725.75" y1="986" y2="998.75"/>
<line class="w" x1="1725.75" x2="1725.75" y1="1031.25" y2="1035"/>
<rect class="b" x="1721.63" y="998.75" width="8.24" height="32.5" fill="#F8766D"/>
<line class="m" x1="1721.63" x2="1729.86" y1="1025.25" y2="1025.25"/>
</g>
<g>
<circle class="o" cx="1743.08" cy="592.75" r="4.3"/>
<line class="w" x1="1743.08" x2="1743.08" y1="762.25" y2="808.75"/>
<line class="w" x1="1743.08" x2="1743.08" y1="888.75" y2="985.5"/>
<rect class="b" x="1738.97" y="808.75" width="8.24" height="80" fill="#619CFF"/>
<line class="m" x1="1738.97" x2="1747.2" y1="861.6" y2="861.6"/>
<line class="w" x1="1751.75" x2="1751.75" y1="726" y2="823"/>
<line class="w" x1="1751.75" x2="1751.75" y1="950.25" y2="975"/>
<rect class="b" x="1747.63" y="823" width="8.24" height="127.25" fill="#00BA38"/>
<line class="m" x1="1747.63" x2="1755.87" y1="935.75" y2="935.75"/>
<line class="w" x1="1760.42" x2="1760.42" y1="932" y2="974"/>
<line class="w" x1="1760.42" x2="1760.42" y1="1030" y2="1040.25"/>
<rect class="b" x="1756.3" y="974" width="8.24" height="56" fill="#F8766D"/>
<line class="m" x1="1756.3" x2="1764.54" y1="1023.25" y2="1023.25"/>
</g>
<g>
<circle class="o" cx="1777.76" cy="493.25" r="4.3"/>
<line class="w" x1="1777.76" x2="1777.76" y1="748.5" y2="764"/>
<line class="w" x1="1777.76" x2="1777.76" y1="911.75" y2="989"/>
<rect class="b" x="1773.64" y="764" width="8.24" height="147.75" fill="#619CFF"/>
<line class="m" x1="1773.64" x2="1781.88" y1="863" y2="863"/>
<circle class="o" cx="1786.43" cy="736.25" r="4.3"/>
<line class="w" x1="1786.43" x2="1786.43" y1="843.4" y2="867.5"/>
<line class="w" x1="1786.43" x2="1786.43" y1="944.25" y2="947.75"/>
<rect class="b" x="1782.31" y="867.5" width="8.24" height="76.75" fill="#00BA38"/>
<line class="m" x1="1782.31" x2="1790.54" y1="925" y2="925"/>
<circle class="o" cx="1795.09" cy="937.25" r="4.3"/>
<line class="w" x1="1795.09" x2="1795.09" y1="983.75" y2="993.75"/>
<rect class="b" x="1790.98" y="993.75" width="8.24" height="34" fill="#F8766D"/>
<line class="m" x1="1790.98" x2="1799.21" y1="1018.75" y2="1018.75"/>
</g>
<g>
<line class="w" x1="1812.43" x2="1812.43" y1="626.25" y2="783"/>
<line class="w" x1="1812.43" x2="1812.43" y1="1070.75" y2="1090.5"/>
<rect class="b" x="1808.31" y="783" width="8.24" height="287.75" fill="#619CFF"/>
<line class="m" x1="1808.31" x2="1816.55" y1="1006.25" y2="1006.25"/>
<circle class="o" cx="1821.1" cy="733" r="4.3"/>
<line class="w" x1="1821.1" x2="1821.1" y1="838" y2="878"/>
<line class="w" x1="1821.1" x2="1821.1" y1="951.75" y2="989.5"/>
<rect class="b" x="1816.98" y="878" width="8.24" height="73.75" fill="#00BA38"/>
<line class="m" x1="1816.98" x2="1825.22" y1="936.75" y2="936.75"/>
<circle class="o" cx="1829.77" cy="936.75" r="4.3"/>
<line class="w" x1="1829.77" x2="1829.77" y1="982" y2="998.75"/>
<line class="w" x1="1829.77" x2="1829.77" y1="1031.25" y2="1047.25"/>
<rect class="b" x="1825.65" y="998.75" width="8.24" height="32.5" fill="#F8766D"/>
<line class="m" x1="1825.65" x2="1833.89" y1="1024.5" y2="1024.5"/>
</g>
<g>
<line class="w" x1="1847.11" x2="1847.11" y1="628.25" y2="733.75"/>
<line class="w" x1="1847.11" x2="1847.11" y1="909.75" y2="1090.5"/>
<rect class="b" x="1842.99" y="733.75" width="8.24" height="176" fill="#619CFF"/>
<line class="m" x1="1842.99" x2="1851.22" y1="740.5" y2="740.5"/>
<circle class="o" cx="1855.77" cy="745" r="4.3"/>
<line class="w" x1="1855.77" x2="1855.77" y1="859.5" y2="892"/>
<line class="w" x1="1855.77" x2="1855.77" y1="949" y2="991.25"/>
<rect class="b" x="1851.66" y="892" width="8.24" height="57" fill="#00BA38"/>
<line class="m" x1="1851.66" x2="1859.89" y1="947" y2="947"/>
<circle class="o" cx="1864.44" cy="943" r="4.3"/>
<line class="w" x1="1864.44" x2="1864.44" y1="992" y2="1005.25"/>
<line class="w" x1="1864.44" x2="1864.44" y1="1030.25" y2="1048"/>
<rect class="b" x="1860.32" y="1005.25" width="8.24" height="25" fill="#F8766D"/>
<line class="m" x1="1860.32" x2="1868.56" y1="1028.75" y2="1028.75"/>
</g>
<g>
<line class="w" x1="1881.78" x2="1881.78" y1="616.25" y2="761.25"/>
<line class="w" x1="1881.78" x2="1881.78" y1="930.75" y2="959.5"/>
<rect class="b" x="1877.66" y="761.25" width="8.24" height="169.5" fill="#619CFF"/>
<line class="m" x1="1877.66" x2="1885.9" y1="814.5" y2="814.5"/>
<line class="w" x1="1890.45" x2="1890.45" y1="754.25" y2="831.75"/>
<line class="w" x1="1890.45" x2="1890.45" y1="939" y2="963.75"/>
<rect class="b" x="1886.33" y="831.75" width="8.24" height="107.25" fill="#00BA38"/>
<line class="m" x1="1886.33" x2="1894.57" y1="896.25" y2="896.25"/>
<line class="w" x1="1899.12" x2="1899.12" y1="948" y2="980.75"/>
<line class="w" x1="1899.12" x2="1899.12" y1="1026.5" y2="1037"/>
<rect class="b" x="1895" y="980.75" width="8.24" height="45.75" fill="#F8766D"/>
<line class="m" x1="1895" x2="1903.23" y1="1008" y2="1008"/>
</g>
<g>
<line class="w" x1="1916.45" x2="1916.45" y1="703.5" y2="876.1"/>
<rect class="b" x="1912.34" y="876.1" width="8.24" height="214.4" fill="#619CFF"/>
<line class="m" x1="1912.34" x2="1920.57" y1="966" y2="966"/>
<circle class="o" cx="1925.12" cy="745.25" r="4.3"/>
<line class="w" x1="1925.12" x2="1925.12" y1="871.5" y2="924"/>
<line class="w" x1="1925.12" x2="1925.12" y1="984" y2="998.75"/>
<rect class="b" x="1921" y="924" width="8.24" height="60" fill="#00BA38"/>
<line class="m" x1="1921" x2="1929.24" y1="952" y2="952"/>
<circle class="o" cx="1933.79" cy="944.75" r="4.3"/>
<line class="w" x1="1933.79" x2="1933.79" y1="998.5" y2="1020"/>
<line class="w" x1="1933.79" x2="1933.79" y1="1045.75" y2="1051.75"/>
<rect class="b" x="1929.67" y="1020" width="8.24" height="25.75" fill="#F8766D"/>
<line class="m" x1="1929.67" x2="1937.91" y1="1032" y2="1032"/>
</g>
<g>
<line class="w" x1="1951.13" x2="1951.13" y1="871.25" y2="911.25"/>
<rect class="b" x="1947.01" y="911.25" width="8.24" height="179.25" fill="#619CFF"/>
<line class="m" x1="1947.01" x2="1955.25" y1="950" y2="950"/>
<line class="w" x1="1959.8" x2="1959.8" y1="769" y2="884.9"/>
<line class="w" x1="1959.8" x2="1959.8" y1="966.75" y2="1007.5"/>
<rect class="b" x="1955.68" y="884.9" width="8.24" height="81.85" fill="#00BA38"/>
<line class="m" x1="1955.68" x2="1963.91" y1="950" y2="950"/>
<line class="w" x1="1968.46" x2="1968.46" y1="955.5" y2="1004"/>
<line class="w" x1="1968.46" x2="1968.46" y1="1039" y2="1055.75"/>
<rect class="b" x="1964.35" y="1004" width="8.24" height="35" fill="#F8766D"/>
<line class="m" x1="1964.35" x2="1972.58" y1="1032.5" y2="1032.5"/>
</g>
<g>
<line class="t" x1="87.4" x2="87.4" y1="1142" y2="1147.6"/>
<line class="t" x1="122.07" x2="122.07" y1="1142" y2="1147.6"/>
<line class="t" x1="156.75" x2="156.75" y1="1142" y2="1147.6"/>
<line class="t" x1="191.42" x2="191.42" y1="1142" y2="1147.6"/>
<line class="t" x1="226.1" x2="226.1" y1="1142" y2="1147.6"/>
<line class="t" x1="260.77" x2="260.77" y1="1142" y2="1147.6"/>
<line class="t" x1="295.44" x2="295.44" y1="1142" y2="1147.6"/>
<line class="t" x1="330.12" x2="330.12" y1="1142" y2="1147.6"/>
<line class="t" x1="364.79" x2="364.79" y1="1142" y2="1147.6"/>
<line class="t" x1="399.47" x2="399.47" y1="1142" y2="1147.6"/>
<line class="t" x1="434.14" x2="434.14" y1="1142" y2="1147.6"/>
<line class="t" x1="468.81" x2="468.81" y1="1142" y2="1147.6"/>
<line class="t" x1="503.49" x2="503.49" y1="1142" y2="1147.6"/>
<line class="t" x1="538.16" x2="538.16" y1="1142" y2="1147.6"/>
<line class="t" x1="572.84" x2="572.84" y1="1142" y2="1147.6"/>
<line class="t" x1="607.51" x2="607.51" y1="1142" y2="1147.6"/>
<line class="t" x1="642.18" x2="642.18" y1="1142" y2="1147.6"/>
<line class="t" x1="676.86" x2="676.86" y1="1142" y2="1147.6"/>
<line class="t" x1="711.53" x2="711.53" y1="1142" y2="1147.6"/>
<line class="t" x1="746.21" x2="746.21" y1="1142" y2="1147.6"/>
<line class="t" x1="780.88" x2="780.88" y1="1142" y2="1147.6"/>
<line class="t" x1="815.55" x2="815.55" y1="1142" y2="1147.6"/>
<line class="t" x1="850.23" x2="850.23" y1="1142" y2="1147.6"/>
<line class="t" x1="884.9" x2="884.9" y1="1142" y2="1147.6"/>
<line class="t" x1="919.58" x2="919.58" y1="1142" y2="1147.6"/>
<line class="t" x1="954.25" x2="954.25" y1="1142" y2="1147.6"/>
<line class="t" x1="988.92" x2="988.92" y1="1142" y2="1147.6"/>
<line class="t" x1="1023.6" x2="1023.6" y1="1142" y2="1147.6"/>
<line class="t" x1="1058.27" x2="1058.27" y1="1142" y2="1147.6"/>
<line class="t" x1="1092.95" x2="1092.95" y1="1142" y2="1147.6"/>
<line class="t" x1="1127.62" x2="1127.62" y1="1142" y2="1147.6"/>
<line class="t" x1="1162.29" x2="1162.29" y1="1142" y2="1147.6"/>
<line class="t" x1="1196.97" x2="1196.97" y1="1142" y2="1147.6"/>
<line class="t" x1="1231.64" x2="1231.64" y1="1142" y2="1147.6"/>
<line class="t" x1="1266.32" x2="1266.32" y1="1142" y2="1147.6"/>
<line class="t" x1="1300.99" x2="1300.99" y1="1142" y2="1147.6"/>
<line class="t" x1="1335.66" x2="1335.66" y1="1142" y2="1147.6"/>
<line class="t" x1="1370.34" x2="1370.34" y1="1142" y2="1147.6"/>
<line class="t" x1="1405.01" x2="1405.01" y1="1142" y2="1147.6"/>
<line class="t" x1="1439.69" x2="1439.69" y1="1142" y2="1147.6"/>
<line class="t" x1="1474.36" x2="1474.36" y1="1142" y2="1147.6"/>
<line class="t" x1="1509.03" x2="1509.03" y1="1142" y2="1147.6"/>
<line class="t" x1="1543.71" x2="1543.71" y1="1142" y2="1147.6"/>
<line class="t" x1="1578.38" x2="1578.38" y1="1142" y2="1147.6"/>
<line class="t" x1="1613.06" x2="1613.06" y1="1142" y2="1147.6"/>
<line class="t" x1="1647.73" x2="1647.73" y1="1142" y2="1147.6"/>
<line class="t" x1="1682.4" x2="1682.4" y1="1142" y2="1147.6"/>
<line class="t" x1="1717.08" x2="1717.08" y1="1142" y2="1147.6"/>
<line class="t" x1="1751.75" x2="1751.75" y1="1142" y2="1147.6"/>
<line class="t" x1="1786.43" x2="1786.43" y1="1142" y2="1147.6"/>
<line class="t" x1="1821.1" x2="1821.1" y1="1142" y2="1147.6"/>
<line class="t" x1="1855.77" x2="1855.77" y1="1142" y2="1147.6"/>
<line class="t" x1="1890.45" x2="1890.45" y1="1142" y2="1147.6"/>
<line class="t" x1="1925.12" x2="1925.12" y1="1142" y2="1147.6"/>
<line class="t" x1="1959.8" x2="1959.8" y1="1142" y2="1147.6"/>
<line class="t" x1="61.3" x2="66.8" y1="78.4" y2="78.4"/>
<line class="t" x1="61.3" x2="66.8" y1="331.4" y2="331.4"/>
<line class="t" x1="61.3" x2="66.8" y1="584.4" y2="584.4"/>
<line class="t" x1="61.3" x2="66.8" y1="837.45" y2="837.45"/>
<line class="t" x1="61.3" x2="66.8" y1="1090.5" y2="1090.5"/>
</g>
<g class="yl">
<text x="57.4" y="84.1">10.0</text>
<text x="57.4" y="337.1">7.5</text>
<text x="57.4" y="590.1">5.0</text>
<text x="57.4" y="843.15">2.5</text>
<text x="57.4" y="1096.2">0.0</text>
</g>
<g class="xl">
<text transform="translate(99.4 1216.3) rotate(-90)">2018 10</text>
<text transform="translate(134.07 1216.3) rotate(-90)">2018 11</text>
<text transform="translate(168.75 1216.3) rotate(-90)">2018 12</text>
<text transform="translate(203.42 1216.3) rotate(-90)">2019 01</text>
<text transform="translate(238.1 1216.3) rotate(-90)">2019 02</text>
<text transform="translate(272.77 1216.3) rotate(-90)">2019 03</text>
<text transform="translate(307.44 1216.3) rotate(-90)">2019 04</text>
<text transform="translate(342.12 1216.3) rotate(-90)">2019 05</text>
<text transform="translate(376.79 1216.3) rotate(-90)">2019 06</text>
<text transform="translate(411.47 1216.3) rotate(-90)">2019 07</text>
<text transform="translate(446.14 1216.3) rotate(-90)">2019 08</text>
<text transform="translate(480.81 1216.3) rotate(-90)">2019 09</text>
<text transform="translate(515.49 1216.3) rotate(-90)">2019 10</text>
<text transform="translate(550.16 1216.3) rotate(-90)">2019 11</text>
<text transform="translate(584.84 1216.3) rotate(-90)">2019 12</text>
<text transform="translate(619.51 1216.3) rotate(-90)">2020 01</text>
<text transform="translate(654.18 1216.3) rotate(-90)">2020 02</text>
<text transform="translate(688.86 1216.3) rotate(-90)">2020 03</text>
<text transform="translate(723.53 1216.3) rotate(-90)">2020 04</text>
<text transform="translate(758.21 1216.3) rotate(-90)">2020 05</text>
<text transform="translate(792.88 1216.3) rotate(-90)">2020 06</text>
<text transform="translate(827.55 1216.3) rotate(-90)">2020 07</text>
<text transform="translate(862.23 1216.3) rotate(-90)">2020 08</text>
<text transform="translate(896.9 1216.3) rotate(-90)">2020 09</text>
<text transform="translate(931.58 1216.3) rotate(-90)">2020 10</text>
<text transform="translate(966.25 1216.3) rotate(-90)">2020 11</text>
<text transform="translate(1000.92 1216.3) rotate(-90)">2020 12</text>
<text transform="translate(1035.6 1216.3) rotate(-90)">2021 01</text>
<text transform="translate(1070.27 1216.3) rotate(-90)">2021 02</text>
<text transform="translate(1104.95 1216.3) rotate(-90)">2021 03</text>
<text transform="translate(1139.62 1216.3) rotate(-90)">2021 04</text>
<text transform="translate(1174.29 1216.3) rotate(-90)">2021 05</text>
<text transform="translate(1208.97 1216.3) rotate(-90)">2021 06</text>
<text transform="translate(1243.64 1216.3) rotate(-90)">2021 07</text>
<text transform="translate(1278.32 1216.3) rotate(-90)">2021 08</text>
<text transform="translate(1312.99 1216.3) rotate(-90)">2021 09</text>
<text transform="translate(1347.66 1216.3) rotate(-90)">2021 10</text>
<text transform="translate(1382.34 1216.3) rotate(-90)">2021 11</text>
<text transform="translate(1417.01 1216.3) rotate(-90)">2021 12</text>
<text transform="translate(1451.69 1216.3) rotate(-90)">2022 01</text>
<text transform="translate(1486.36 1216.3) rotate(-90)">2022 02</text>
<text transform="translate(1521.03 1216.3) rotate(-90)">2022 03</text>
<text transform="translate(1555.71 1216.3) rotate(-90)">2022 04</text>
<text transform="translate(1590.38 1216.3) rotate(-90)">2022 05</text>
<text transform="translate(1625.06 1216.3) rotate(-90)">2022 06</text>
<text transform="translate(1659.73 1216.3) rotate(-90)">2022 07</text>
<text transform="translate(1694.4 1216.3) rotate(-90)">2022 08</text>
<text transform="translate(1729.08 1216.3) rotate(-90)">2022 09</text>
<text transform="translate(1763.75 1216.3) rotate(-90)">2022 10</text>
<text transform="translate(1798.43 1216.3) rotate(-90)">2022 11</text>
<text transform="translate(1833.1 1216.3) rotate(-90)">2022 12</text>
<text transform="translate(1867.77 1216.3) rotate(-90)">2023 01</text>
<text transform="translate(1902.45 1216.3) rotate(-90)">2023 02</text>
<text transform="translate(1937.12 1216.3) rotate(-90)">2023 03</text>
<text transform="translate(1971.8 1216.3) rotate(-90)">2023 04</text>
</g>
<text class="ti" text-anchor="middle" x="1023.4" y="1236.0">month</text>
<text class="ti" style="font-size:20.23px" text-anchor="middle" transform="translate(15.2 571.3) rotate(-90)">Cons.ext.causes Cum. Incidence (%) (occup.)</text>
<text class="ti" style="font-size:20px" x="810.1" y="1294.2">variable</text>
<rect x="890.3" y="1271" width="32" height="32" fill="#F2F2F2"/>
<line class="w" x1="906.3" x2="906.3" y1="1274.2" y2="1279"/>
<line class="w" x1="906.3" x2="906.3" y1="1295" y2="1299.8"/>
<rect class="b" x="894.3" y="1279" width="24" height="16" fill="#619CFF"/>
<line class="w" x1="894.3" x2="918.3" y1="1287" y2="1287"/>
<text class="lg" x="933" y="1293.0">Observed</text>
<rect x="1015" y="1271" width="32" height="32" fill="#F2F2F2"/>
<line class="w" x1="1031" x2="1031" y1="1274.2" y2="1279"/>
<line class="w" x1="1031" x2="1031" y1="1295" y2="1299.8"/>
<rect class="b" x="1019" y="1279" width="24" height="16" fill="#00BA38"/>
<line class="w" x1="1019" x2="1043" y1="1287" y2="1287"/>
<text class="lg" x="1057" y="1293.0">Outcome</text>
<rect x="1135" y="1271" width="32" height="32" fill="#F2F2F2"/>
<line class="w" x1="1151" x2="1151" y1="1274.2" y2="1279"/>
<line class="w" x1="1151" x2="1151" y1="1295" y2="1299.8"/>
<rect class="b" x="1139" y="1279" width="24" height="16" fill="#F8766D"/>
<line class="w" x1="1139" x2="1163" y1="1287" y2="1287"/>
<text class="lg" x="1177" y="1293.0">Cfactual</text>
</svg></body></html>
